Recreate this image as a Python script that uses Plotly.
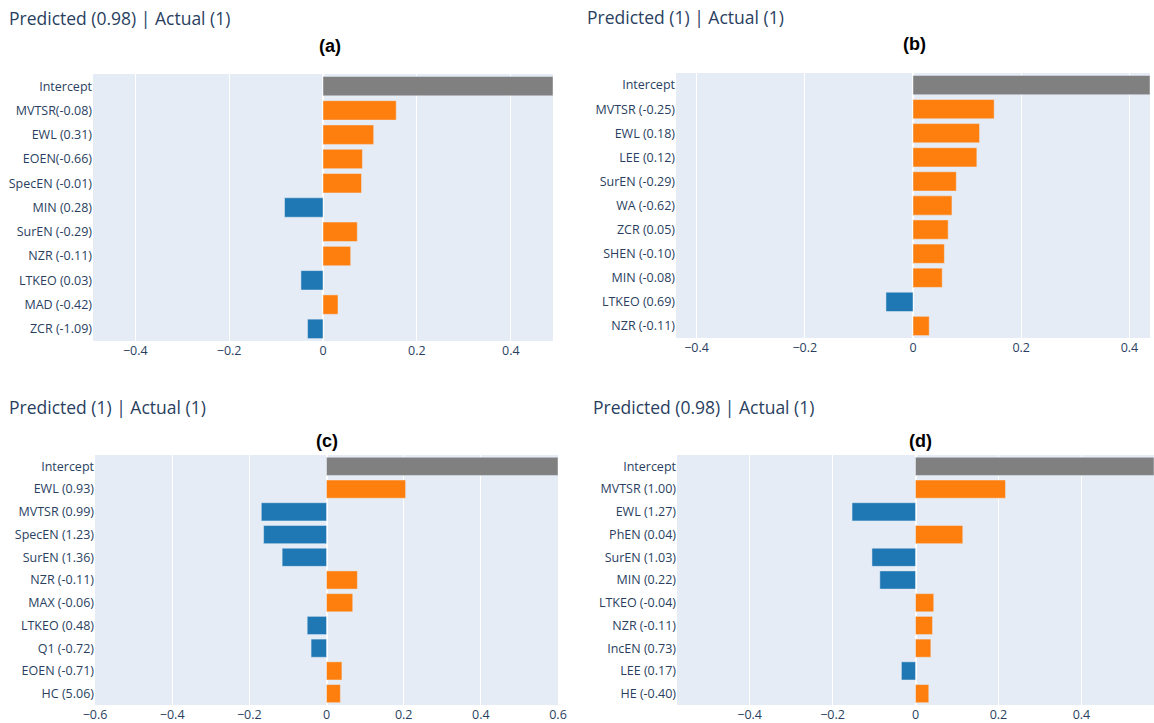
import plotly.graph_objects as go

W, H = 1154, 723

# ---- LIME explanations, one per sample ----
a_labels = ["Intercept", "MVTSR(-0.08)", "EWL (0.31)", "EOEN(-0.66)", "SpecEN (-0.01)",
            "MIN (0.28)", "SurEN (-0.29)", "NZR (-0.11)", "LTKEO (0.03)", "MAD (-0.42)", "ZCR (-1.09)"]
a_values = [0.49, 0.156, 0.108, 0.084, 0.082, -0.082, 0.073, 0.059, -0.047, 0.032, -0.033]

b_labels = ["Intercept", "MVTSR (-0.25)", "EWL (0.18)", "LEE (0.12)", "SurEN (-0.29)",
            "WA (-0.62)", "ZCR (0.05)", "SHEN (-0.10)", "MIN (-0.08)", "LTKEO (0.69)", "NZR (-0.11)"]
b_values = [0.438, 0.150, 0.123, 0.118, 0.080, 0.072, 0.065, 0.058, 0.054, -0.050, 0.030]

c_labels = ["Intercept", "EWL (0.93)", "MVTSR (0.99)", "SpecEN (1.23)", "SurEN (1.36)",
            "NZR (-0.11)", "MAX (-0.06)", "LTKEO (0.48)", "Q1 (-0.72)", "EOEN (-0.71)", "HC (5.06)"]
c_values = [0.60, 0.205, -0.169, -0.163, -0.115, 0.080, 0.068, -0.050, -0.040, 0.040, 0.036]

d_labels = ["Intercept", "MVTSR (1.00)", "EWL (1.27)", "PhEN (0.04)", "SurEN (1.03)",
            "MIN (0.22)", "LTKEO (-0.04)", "NZR (-0.11)", "IncEN (0.73)", "LEE (0.17)", "HE (-0.40)"]
d_values = [0.575, 0.217, -0.153, 0.114, -0.105, -0.086, 0.044, 0.041, 0.037, -0.034, 0.032]

headers = ["Predicted (0.98) | Actual (1)", "Predicted (1) | Actual (1)",
           "Predicted (1) | Actual (1)", "Predicted (0.98) | Actual (1)"]
tags = ["(a)", "(b)", "(c)", "(d)"]

# pixel boxes of each plot area: (left, right, top, bottom)
boxes = [(93, 553, 74, 341), (676, 1150, 73, 338), (95, 558, 455, 705), (677, 1154, 455, 705)]
ranges = [(-0.49, 0.49), (-0.438, 0.438), (-0.6, 0.6), (-0.575, 0.575)]
header_pos = [(7, 18), (585, 17), (7, 407), (591, 407)]
tag_pos = [(330, 46), (914, 44), (327, 441), (920, 441)]

ORANGE, BLUE, GREY = "#ff7f0e", "#1f77b4", "#808080"
FONT = "Open Sans, verdana, arial, sans-serif"
TXT = "#2a3f5f"

panels = [(a_labels, a_values), (b_labels, b_values), (c_labels, c_values), (d_labels, d_values)]

fig = go.Figure()
layout = dict(width=W, height=H, margin=dict(l=0, r=0, t=0, b=0),
              paper_bgcolor="white", plot_bgcolor="#E5ECF6", showlegend=False,
              bargap=0.2, annotations=[], template="plotly")

for i, (labels, values) in enumerate(panels):
    n = "" if i == 0 else str(i + 1)
    colors = [GREY if lab == "Intercept" else (ORANGE if v > 0 else BLUE)
              for lab, v in zip(labels, values)]
    fig.add_trace(go.Bar(x=values, y=labels, orientation="h",
                         marker=dict(color=colors, line=dict(color="#E5ECF6", width=0.5)),
                         xaxis="x" + n, yaxis="y" + n))
    l, r, t, b = boxes[i]
    layout["xaxis" + n] = dict(domain=[l / W, r / W], anchor="y" + n, range=list(ranges[i]),
                               dtick=0.2, showgrid=True, gridcolor="white", zeroline=True,
                               zerolinecolor="white", zerolinewidth=2, automargin=False,
                               tickfont=dict(family=FONT, size=12.5, color=TXT))
    layout["yaxis" + n] = dict(domain=[1 - b / H, 1 - t / H], anchor="x" + n,
                               autorange="reversed", showgrid=False, automargin=False,
                               tickfont=dict(family=FONT, size=12.5, color=TXT))
    hx, hy = header_pos[i]
    layout["annotations"].append(dict(text=headers[i], x=hx / W, y=1 - hy / H, xref="paper",
                                      yref="paper", xanchor="left", yanchor="middle",
                                      showarrow=False,
                                      font=dict(family=FONT, size=17.5, color=TXT)))
    tx, ty = tag_pos[i]
    layout["annotations"].append(dict(text="<b>" + tags[i] + "</b>", x=tx / W, y=1 - ty / H,
                                      xref="paper", yref="paper", xanchor="center",
                                      yanchor="middle", showarrow=False,
                                      font=dict(family="Liberation Sans, Arial", size=18,
                                                color="black")))

fig.update_layout(**layout)
fig.write_html("out.html")
